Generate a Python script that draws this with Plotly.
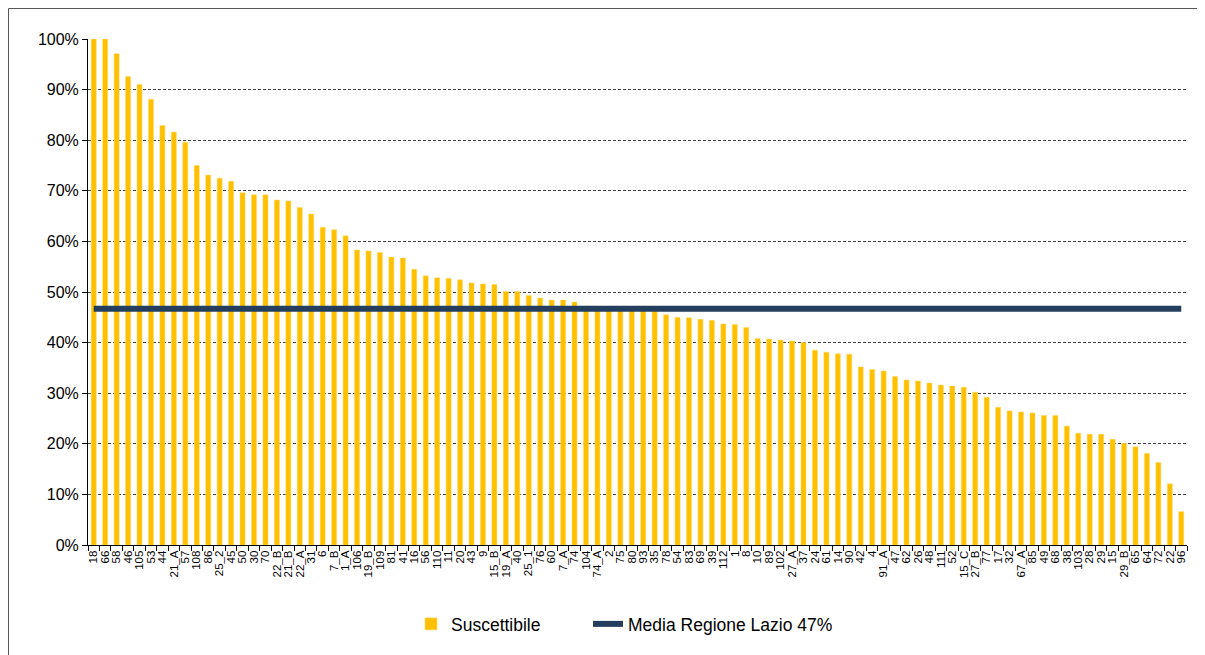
import plotly.graph_objects as go

categories = ["18", "66", "58", "46", "105", "53", "44", "21_A", "57", "108",
              "86", "25_2", "45", "50", "30", "70", "22_B", "21_B", "22_A", "31",
              "6", "7_B", "1_A", "106", "19_B", "109", "81", "41", "16", "56",
              "110", "11", "20", "43", "9", "15_B", "19_A", "40", "25_1", "76",
              "60", "7_A", "74", "104", "74_A", "2", "75", "80", "93", "35",
              "78", "54", "83", "69", "39", "112", "1", "8", "10", "89",
              "102", "27_A", "37", "24", "61", "14", "90", "42", "4", "91_A",
              "47", "62", "26", "48", "111", "52", "15_C", "27_B", "77", "17",
              "32", "67_A", "85", "49", "68", "38", "103", "28", "29", "15",
              "29_B", "65", "64", "72", "22", "96"]

suscettibile = [100, 100, 97.1, 92.6, 91.0, 88.1, 82.9, 81.6, 79.6, 75.0,
                73.1, 72.5, 71.9, 69.6, 69.2, 69.2, 68.2, 68.0, 66.7, 65.4,
                62.8, 62.3, 61.1, 58.3, 58.1, 57.8, 56.9, 56.7, 54.5, 53.2,
                52.8, 52.7, 52.4, 51.8, 51.6, 51.5, 50.1, 50.1, 49.3, 48.8,
                48.4, 48.4, 48.0, 47.2, 46.9, 46.8, 46.7, 46.6, 46.5, 46.3,
                45.5, 45.0, 44.9, 44.6, 44.4, 43.7, 43.6, 43.0, 40.8, 40.7,
                40.5, 40.3, 40.0, 38.5, 38.1, 37.8, 37.7, 35.2, 34.7, 34.4,
                33.3, 32.6, 32.4, 32.0, 31.6, 31.4, 31.2, 30.2, 29.2, 27.2,
                26.5, 26.3, 26.1, 25.6, 25.6, 23.5, 22.1, 21.9, 21.9, 20.9,
                20.1, 19.4, 18.1, 16.3, 12.1, 6.6]

media_lazio = 46.7

FONT = "Liberation Sans, Arial, sans-serif"

# figure sized to fit the window after the page's 8px body margin
FW, FH = 1197, 647
L, R, T, B = 80, 1179, 31, 537
W, H = R - L, B - T
LEG_Y = (B - 616) / H

fig = go.Figure()
fig.add_trace(go.Bar(
    x=categories,
    y=[v / 100 for v in suscettibile],
    name="Suscettibile",
    marker=dict(color="#FFC000", line=dict(color="#FFD966", width=0.5)),
    width=0.44,
    legend="legend",
))
fig.add_trace(go.Scatter(
    x=categories,
    y=[media_lazio / 100] * len(categories),
    name="Media Regione Lazio 47%",
    mode="lines",
    line=dict(color="#243F5E", width=6),
    legend="legend2",
))

leg_common = dict(orientation="h", xanchor="left", yanchor="middle", y=LEG_Y,
                  font=dict(size=17.5, family=FONT), bgcolor="rgba(0,0,0,0)")

frame = dict(color="#595959", width=1)
fig.update_layout(
    width=FW, height=FH,
    margin=dict(l=L, r=FW - R, t=T, b=FH - B, autoexpand=False),
    paper_bgcolor="white", plot_bgcolor="white",
    font=dict(family=FONT, color="black"),
    showlegend=True,
    legend=dict(x=(403 - L) / W, **leg_common),
    legend2=dict(x=(580 - L) / W, **leg_common),
    xaxis=dict(
        type="category", tickangle=-90, tickfont=dict(size=11.5, family=FONT),
        tickmode="linear", dtick=1,
        showline=True, linecolor="black", linewidth=1,
        ticks="outside", ticklen=5, tickcolor="black", tickson="boundaries",
        showgrid=False, range=[-0.5, len(categories) - 0.5],
    ),
    yaxis=dict(
        range=[0, 1.0], dtick=0.1, tickformat=".0%",
        tickfont=dict(size=16, family=FONT),
        showline=True, linecolor="black", linewidth=1,
        ticks="outside", ticklen=5, tickcolor="black",
        showgrid=True, gridcolor="#404040", gridwidth=1, griddash="3px,2px",
        zeroline=False,
    ),
    shapes=[
        dict(type="line", xref="paper", yref="paper",
             x0=(0.5 - L) / W, x1=(FW - L) / W,
             y0=(B - 0.5) / H, y1=(B - 0.5) / H, line=frame, layer="below"),
        dict(type="line", xref="paper", yref="paper",
             x0=(0.5 - L) / W, x1=(0.5 - L) / W,
             y0=(B - FH) / H, y1=(B - 0.5) / H, line=frame, layer="below"),
    ],
)

fig.write_html("out.html")
